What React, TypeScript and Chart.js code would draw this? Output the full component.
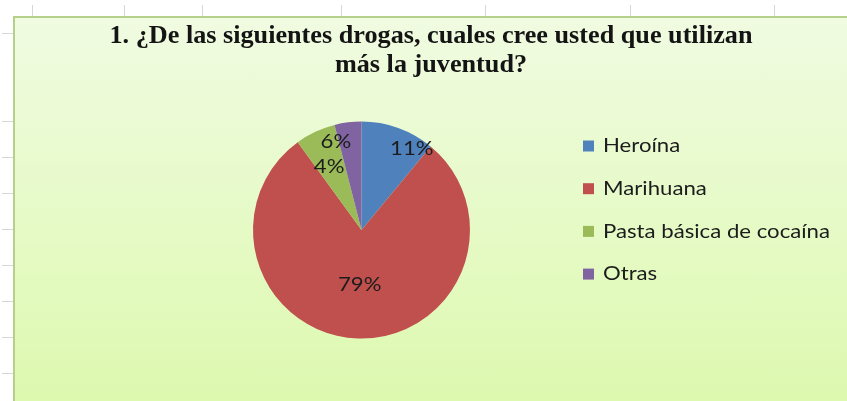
import { useEffect, useRef } from "react";
import { Chart, registerables } from "chart.js";

Chart.register(...registerables);

const categories = ["Heroína", "Marihuana", "Pasta básica de cocaína", "Otras"];
const values = [11, 79, 6, 4];
const colors = ["#4f81bd", "#c0504d", "#9bbb59", "#8064a2"];
const titleLines = [
  "1. ¿De las siguientes drogas, cuales cree usted que utilizan",
  "más la juventud?",
];
// label placement (fraction of radius, angular shift in degrees)
const labelRadius = [0.88, 0.51, 0.845, 0.653];
const labelShift = [12, 0, 9, -20];

const topTicks = [32, 124, 202, 341, 485, 630, 774];
const leftTicks = [33, 121, 157, 193, 229, 265, 301, 337, 373];

const SANS = "Lato, 'Noto Sans', sans-serif";
const SERIF = "'Liberation Serif', 'DejaVu Serif', serif";

function drawScaled(ctx: CanvasRenderingContext2D, text: string, x: number, y: number, sx: number, align: "left" | "center") {
  ctx.save();
  ctx.translate(x, y);
  ctx.scale(sx, 1);
  ctx.textAlign = align;
  ctx.fillText(text, 0, 0);
  ctx.restore();
}

const excelPlugin = {
  id: "excelDecor",
  afterDatasetsDraw(chart: any) {
    const ctx: CanvasRenderingContext2D = chart.ctx;
    const meta = chart.getDatasetMeta(0);
    const total = values.reduce((a, b) => a + b, 0);
    ctx.save();
    ctx.font = `19px ${SANS}`;
    const legendScale = 227 / ctx.measureText(categories[2]).width;
    ctx.fillStyle = "#1c1c1c";
    ctx.textBaseline = "middle";
    meta.data.forEach((arc: any, i: number) => {
      const p = arc.getProps(["x", "y", "startAngle", "endAngle", "outerRadius"], true);
      const a = (p.startAngle + p.endAngle) / 2 + (labelShift[i] * Math.PI) / 180;
      const r = p.outerRadius * labelRadius[i];
      const txt = Math.round((values[i] / total) * 100) + "%";
      drawScaled(ctx, txt, p.x + Math.cos(a) * r, p.y + Math.sin(a) * r, legendScale, "center");
    });
    ctx.restore();
  },
  afterDraw(chart: any) {
    const ctx: CanvasRenderingContext2D = chart.ctx;
    ctx.save();
    // title
    ctx.font = `bold 26px ${SERIF}`;
    ctx.fillStyle = "#141414";
    ctx.textBaseline = "alphabetic";
    const tScale = 643 / ctx.measureText(titleLines[0]).width;
    drawScaled(ctx, titleLines[0], 416, 25, tScale, "center");
    drawScaled(ctx, titleLines[1], 416, 54, tScale, "center");
    // legend
    ctx.font = `19px ${SANS}`;
    const lScale = 227 / ctx.measureText(categories[2]).width;
    ctx.textBaseline = "middle";
    const legendTop = 128;
    const legendGap = 42.7;
    categories.forEach((c, i) => {
      const y = legendTop + i * legendGap;
      ctx.fillStyle = colors[i];
      ctx.fillRect(568, y - 5.5, 11, 11);
      ctx.fillStyle = "#1c1c1c";
      drawScaled(ctx, c, 588, y, lScale, "left");
    });
    ctx.restore();
  },
};

export default function App() {
  const ref = useRef<HTMLCanvasElement>(null);
  useEffect(() => {
    const chart = new Chart(ref.current!, {
      type: "pie",
      data: {
        labels: categories,
        datasets: [{ data: values, backgroundColor: colors, borderWidth: 0 }],
      },
      options: {
        responsive: false,
        animation: false,
        events: [],
        layout: { padding: { left: 238, right: 377, top: 103.5, bottom: 62.5 } },
        plugins: {
          legend: { display: false },
          tooltip: { enabled: false },
          title: { display: false },
        },
      },
      plugins: [excelPlugin],
    });
    return () => chart.destroy();
  }, []);

  return (
    <div style={{ position: "absolute", left: 0, top: 0, width: 847, height: 401, background: "#ffffff", overflow: "hidden" }}>
      {topTicks.map((x) => (
        <div key={"t" + x} style={{ position: "absolute", left: x, top: 5, width: 1, height: 11, background: "#d6d6d6" }} />
      ))}
      {leftTicks.map((y) => (
        <div key={"l" + y} style={{ position: "absolute", left: 2, top: y, width: 11, height: 1, background: "#d6d6d6" }} />
      ))}
      <div
        style={{
          position: "absolute",
          left: 13,
          top: 16,
          width: 850,
          height: 400,
          borderTop: "2px solid #b6cf8b",
          borderLeft: "2px solid #b6cf8b",
          background: "linear-gradient(#f0fbe1, #dcf9ad)",
        }}
      >
        <canvas ref={ref} width={832} height={383} style={{ display: "block", width: 832, height: 383 }} />
      </div>
    </div>
  );
}
